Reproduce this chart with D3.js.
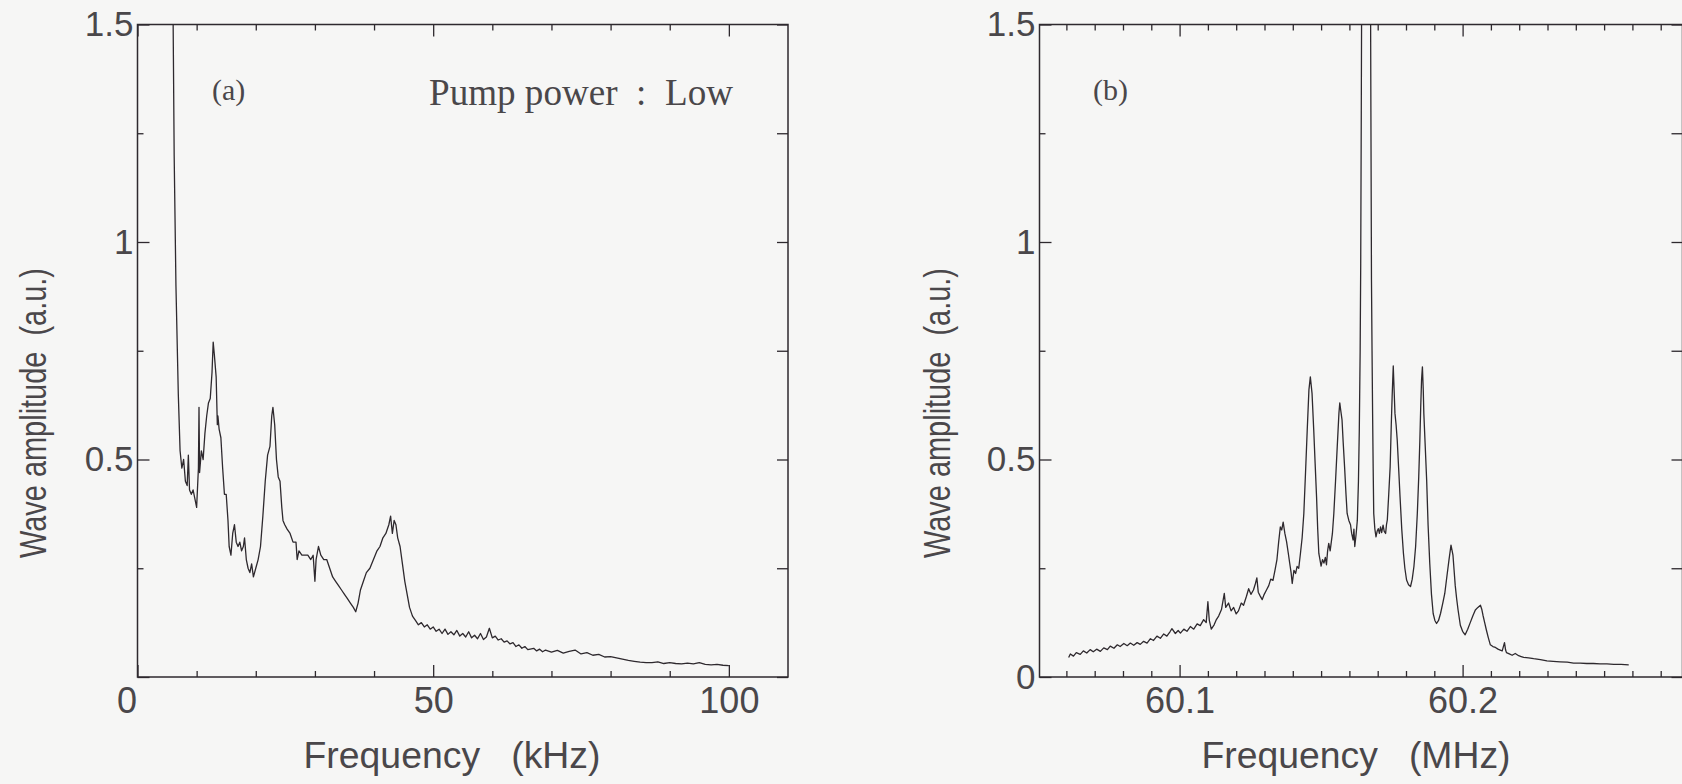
<!DOCTYPE html>
<html>
<head>
<meta charset="utf-8">
<script src="https://cdn.jsdelivr.net/npm/d3@7"></script>
<style>
body { margin: 0; background: #f6f6f5; }
svg { display: block; }
text { white-space: pre; }
</style>
</head>
<body>
<svg id="main"></svg>
<script>
// (a) low frequency spectrum, kHz vs amplitude
var spectrumA = [[6.0,1.55],[6.2,1.2],[6.5,0.9],[6.9,0.65],[7.2,0.52],[7.5,0.48],[7.8,0.5],[8.1,0.45],[8.4,0.44],[8.6,0.51],[8.8,0.43],[9.1,0.42],[9.4,0.43],[9.7,0.41],[10.0,0.39],[10.3,0.48],[10.4,0.62],[10.5,0.47],[10.8,0.52],[11.1,0.5],[11.4,0.56],[11.7,0.6],[12.0,0.63],[12.3,0.64],[12.6,0.7],[12.8,0.77],[13.0,0.74],[13.3,0.69],[13.5,0.58],[13.6,0.6],[13.8,0.57],[14.1,0.55],[14.4,0.48],[14.7,0.42],[15.0,0.42],[15.3,0.36],[15.5,0.3],[15.8,0.28],[16.1,0.33],[16.4,0.35],[16.7,0.31],[17.0,0.3],[17.3,0.31],[17.6,0.29],[17.9,0.3],[18.1,0.32],[18.4,0.27],[18.7,0.25],[19.0,0.24],[19.3,0.26],[19.6,0.23],[20.0,0.25],[20.4,0.27],[20.8,0.3],[21.2,0.37],[21.6,0.45],[22.0,0.51],[22.4,0.53],[22.7,0.6],[22.9,0.62],[23.2,0.58],[23.5,0.5],[23.8,0.46],[24.1,0.45],[24.4,0.39],[24.6,0.36],[24.9,0.35],[25.3,0.34],[25.8,0.33],[26.3,0.31],[26.8,0.31],[27.0,0.27],[27.3,0.29],[27.8,0.28],[28.3,0.28],[28.8,0.28],[29.3,0.27],[29.7,0.28],[30.0,0.22],[30.2,0.27],[30.6,0.3],[31.0,0.28],[31.5,0.27],[32.0,0.27],[32.5,0.25],[33.0,0.23],[33.5,0.22],[34.0,0.21],[34.5,0.2],[35.0,0.19],[35.5,0.18],[36.0,0.17],[36.5,0.16],[36.9,0.15],[37.3,0.17],[37.7,0.2],[38.2,0.22],[38.7,0.24],[39.3,0.25],[39.9,0.27],[40.5,0.29],[41.0,0.3],[41.5,0.32],[42.0,0.33],[42.5,0.35],[42.8,0.37],[43.1,0.33],[43.4,0.36],[43.7,0.35],[44.0,0.32],[44.4,0.3],[44.8,0.26],[45.2,0.22],[45.6,0.19],[46.0,0.16],[46.5,0.14],[47.0,0.13],[47.5,0.12],[48.0,0.125],[48.5,0.115],[49.0,0.12],[49.5,0.11],[50,0.115],[50.5,0.105],[51,0.11],[51.5,0.1],[52,0.11],[52.5,0.098],[53,0.104],[53.5,0.097],[54,0.107],[54.5,0.094],[55,0.1],[55.5,0.092],[56,0.104],[56.5,0.09],[57,0.096],[57.5,0.088],[58,0.1],[58.5,0.086],[59,0.092],[59.5,0.112],[60,0.09],[60.5,0.094],[61,0.085],[61.5,0.088],[62,0.08],[62.5,0.083],[63,0.076],[63.5,0.079],[64,0.07],[64.5,0.074],[65,0.066],[65.5,0.07],[66,0.063],[67,0.066],[67.5,0.06],[68,0.064],[68.5,0.058],[69,0.062],[70,0.057],[71,0.061],[72,0.055],[73,0.059],[74,0.062],[75,0.053],[76,0.056],[77,0.05],[78,0.052],[79,0.046],[80,0.047],[81,0.044],[82,0.041],[83,0.038],[84,0.036],[85,0.034],[86,0.033],[87,0.033],[88,0.035],[89,0.031],[90,0.033],[91,0.031],[92,0.03],[93,0.032],[94,0.03],[95,0.033],[96,0.029],[97,0.028],[98,0.029],[99,0.027],[100,0.026]];

// (b) spectrum around the pump, MHz vs amplitude
var spectrumB = [[60.0608,0.045],[60.0614,0.053],[60.0625,0.048],[60.0635,0.056],[60.0649,0.052],[60.066,0.06],[60.0672,0.055],[60.0684,0.063],[60.0695,0.058],[60.0707,0.064],[60.072,0.059],[60.0732,0.067],[60.0745,0.063],[60.0755,0.071],[60.0768,0.066],[60.078,0.074],[60.079,0.07],[60.0803,0.077],[60.0815,0.072],[60.0826,0.078],[60.0838,0.073],[60.085,0.079],[60.0861,0.075],[60.0873,0.082],[60.0885,0.078],[60.0897,0.088],[60.0908,0.084],[60.092,0.094],[60.0932,0.089],[60.0944,0.099],[60.0955,0.094],[60.0966,0.104],[60.0973,0.111],[60.0985,0.1],[60.0995,0.107],[60.1003,0.101],[60.1015,0.11],[60.1026,0.105],[60.1038,0.116],[60.105,0.11],[60.1062,0.122],[60.1073,0.118],[60.1085,0.132],[60.1094,0.125],[60.11,0.173],[60.1105,0.13],[60.1112,0.11],[60.1122,0.12],[60.113,0.132],[60.1138,0.14],[60.1148,0.155],[60.1158,0.192],[60.1163,0.16],[60.1173,0.17],[60.1182,0.152],[60.1191,0.16],[60.12,0.145],[60.1208,0.152],[60.1218,0.17],[60.1226,0.165],[60.1236,0.185],[60.1244,0.203],[60.1252,0.19],[60.1261,0.2],[60.1268,0.215],[60.1273,0.228],[60.1278,0.195],[60.1285,0.186],[60.1292,0.178],[60.1299,0.19],[60.1307,0.2],[60.1315,0.21],[60.1322,0.225],[60.133,0.222],[60.1337,0.245],[60.1344,0.27],[60.135,0.31],[60.1356,0.345],[60.1361,0.338],[60.1366,0.356],[60.1372,0.33],[60.1378,0.311],[60.1384,0.285],[60.1389,0.262],[60.1394,0.24],[60.1398,0.215],[60.1404,0.245],[60.141,0.238],[60.1415,0.254],[60.1421,0.25],[60.1427,0.284],[60.1433,0.32],[60.1439,0.376],[60.1445,0.47],[60.1451,0.568],[60.1457,0.66],[60.1462,0.69],[60.1468,0.652],[60.1474,0.568],[60.1479,0.49],[60.1484,0.414],[60.1488,0.34],[60.1492,0.284],[60.1496,0.27],[60.15,0.255],[60.1505,0.27],[60.151,0.262],[60.1515,0.275],[60.1519,0.258],[60.1523,0.29],[60.1527,0.307],[60.1532,0.29],[60.1536,0.31],[60.154,0.33],[60.1545,0.376],[60.1551,0.45],[60.1557,0.529],[60.1563,0.606],[60.1566,0.63],[60.1569,0.615],[60.1574,0.591],[60.1578,0.54],[60.1583,0.483],[60.1588,0.42],[60.1592,0.376],[60.1598,0.36],[60.1604,0.35],[60.1608,0.33],[60.1613,0.315],[60.1616,0.34],[60.1619,0.3],[60.1624,0.33],[60.1628,0.36],[60.1632,0.45],[60.1635,0.568],[60.1638,0.75],[60.164,0.95],[60.1642,1.3],[60.1644,1.7],[60.1674,1.7],[60.1676,1.3],[60.1678,0.913],[60.168,0.75],[60.1682,0.606],[60.1684,0.48],[60.1686,0.376],[60.169,0.34],[60.1694,0.322],[60.1698,0.335],[60.1702,0.341],[60.1706,0.33],[60.171,0.345],[60.1714,0.332],[60.1719,0.349],[60.1723,0.335],[60.1728,0.33],[60.1731,0.35],[60.1734,0.361],[60.1739,0.42],[60.1744,0.483],[60.1748,0.58],[60.1751,0.644],[60.1753,0.68],[60.1755,0.715],[60.1758,0.66],[60.1761,0.606],[60.1765,0.58],[60.1769,0.545],[60.1774,0.48],[60.1779,0.414],[60.1785,0.34],[60.1791,0.284],[60.1796,0.25],[60.1802,0.223],[60.1809,0.212],[60.1816,0.208],[60.1822,0.225],[60.1828,0.254],[60.1834,0.3],[60.184,0.376],[60.1845,0.46],[60.1849,0.545],[60.1852,0.62],[60.1855,0.683],[60.1858,0.713],[60.1861,0.66],[60.1863,0.606],[60.1868,0.53],[60.1873,0.453],[60.1878,0.35],[60.1884,0.261],[60.189,0.19],[60.1896,0.146],[60.1902,0.13],[60.1908,0.123],[60.1915,0.13],[60.1922,0.146],[60.193,0.17],[60.1937,0.192],[60.1945,0.234],[60.1952,0.27],[60.1959,0.303],[60.1966,0.28],[60.197,0.245],[60.1974,0.21],[60.1979,0.18],[60.1984,0.154],[60.1992,0.119],[60.2,0.105],[60.2009,0.097],[60.2018,0.11],[60.2027,0.125],[60.2036,0.14],[60.2045,0.154],[60.2054,0.16],[60.2063,0.165],[60.2068,0.155],[60.2072,0.142],[60.2078,0.125],[60.2084,0.108],[60.2091,0.09],[60.2098,0.074],[60.2107,0.07],[60.2116,0.068],[60.2125,0.064],[60.2133,0.062],[60.214,0.06],[60.2148,0.079],[60.2152,0.062],[60.2155,0.056],[60.2165,0.053],[60.2175,0.05],[60.2186,0.054],[60.2198,0.049],[60.2207,0.047],[60.2216,0.045],[60.2233,0.044],[60.2251,0.042],[60.2275,0.04],[60.2298,0.037],[60.232,0.036],[60.2345,0.035],[60.237,0.034],[60.2392,0.032],[60.2415,0.032],[60.2439,0.031],[60.2462,0.031],[60.2486,0.03],[60.251,0.03],[60.2534,0.029],[60.256,0.029],[60.2587,0.028]];

var yMajor = [0, 0.5, 1, 1.5];
var yMinor = [0.25, 0.75, 1.25];
var xMajorA = [0, 50, 100];
var xMinorA = [10, 20, 30, 40, 60, 70, 80, 90];
var xMajorB = [60.1, 60.2];
var xMinorB = [60.06, 60.07, 60.08, 60.09, 60.11, 60.12, 60.13, 60.14, 60.15, 60.16, 60.17, 60.18, 60.19, 60.21, 60.22, 60.23, 60.24, 60.25, 60.26, 60.27];

var width = 1682, height = 784;
var ink = '#2e292e', textInk = '#4a474a';
var sans = '"Liberation Sans", Arial, sans-serif';
var serif = '"Liberation Serif", "Times New Roman", serif';

var svg = d3.select('#main').attr('width', width).attr('height', height);
var defs = svg.append('defs');

var top_ = 24.5, bottom = 677;

function styleAxis(g, size) {
	g.attr('font-family', sans).attr('font-size', size);
	g.select('.domain').remove();
	g.selectAll('line').attr('stroke', ink).attr('stroke-width', 1.3);
	g.selectAll('text').attr('fill', textInk);
	return g;
}

function panel(o) {
	var x = d3.scaleLinear().domain(o.xDomain).range(o.xRange);
	var y = d3.scaleLinear().domain([0, 1.5]).range([bottom, top_]);
	var left = o.xRange[0], right = o.xRange[1];
	var g = svg.append('g');

	defs.append('clipPath').attr('id', o.id)
		.append('rect')
		.attr('x', left).attr('y', top_)
		.attr('width', right - left).attr('height', bottom - top_);

	// ticks, all pointing inward
	styleAxis(g.append('g').attr('transform', `translate(0,${bottom})`)
		.call(d3.axisBottom(x).tickValues(o.xMajor).tickSize(-12).tickPadding(10).tickFormat(o.xFormat)), 36);
	styleAxis(g.append('g').attr('transform', `translate(0,${bottom})`)
		.call(d3.axisBottom(x).tickValues(o.xMinor).tickSize(-6).tickFormat('')), 36);
	styleAxis(g.append('g').attr('transform', `translate(0,${top_})`)
		.call(d3.axisTop(x).tickValues(o.xMajor).tickSize(-12).tickFormat('')), 36);
	styleAxis(g.append('g').attr('transform', `translate(0,${top_})`)
		.call(d3.axisTop(x).tickValues(o.xMinor).tickSize(-6).tickFormat('')), 36);
	styleAxis(g.append('g').attr('transform', `translate(${left},0)`)
		.call(d3.axisLeft(y).tickValues(yMajor).tickSize(-12).tickPadding(4).tickFormat(o.yFormat)), 35);
	styleAxis(g.append('g').attr('transform', `translate(${left},0)`)
		.call(d3.axisLeft(y).tickValues(yMinor).tickSize(-6).tickFormat('')), 35);
	styleAxis(g.append('g').attr('transform', `translate(${right},0)`)
		.call(d3.axisRight(y).tickValues(yMajor.concat(yMinor)).tickSize(-11).tickFormat('')), 35);

	// frame
	g.append('rect')
		.attr('x', left).attr('y', top_)
		.attr('width', right - left).attr('height', bottom - top_)
		.attr('fill', 'none').attr('stroke', ink).attr('stroke-width', 1.5);

	var line = d3.line().x(d => x(d[0])).y(d => y(d[1]));
	g.append('path')
		.datum(o.data)
		.attr('d', line)
		.attr('clip-path', `url(#${o.id})`)
		.attr('fill', 'none')
		.attr('stroke', ink)
		.attr('stroke-width', 1.3)
		.attr('stroke-linejoin', 'round');

	g.append('text')
		.attr('x', o.xTitle[0]).attr('y', o.xTitle[1])
		.attr('text-anchor', 'middle')
		.attr('font-family', sans).attr('font-size', 37)
		.attr('fill', textInk)
		.attr('textLength', o.xTitle[2]).attr('lengthAdjust', 'spacingAndGlyphs')
		.text(o.xLabel);

	g.append('text')
		.attr('transform', `translate(${o.yTitle[0]},${o.yTitle[1]}) rotate(-90)`)
		.attr('text-anchor', 'middle')
		.attr('font-family', sans).attr('font-size', 37)
		.attr('fill', textInk)
		.attr('textLength', 290).attr('lengthAdjust', 'spacingAndGlyphs')
		.text('Wave amplitude  (a.u.)');

	g.append('text')
		.attr('x', o.tag[0]).attr('y', o.tag[1])
		.attr('font-family', serif).attr('font-size', 30)
		.attr('fill', textInk)
		.text(o.tag[2]);

	return {g, x, y};
}

var a = panel({
	id: 'clipA',
	data: spectrumA,
	xDomain: [0, 110], xRange: [137.5, 788],
	xMajor: xMajorA, xMinor: xMinorA,
	xFormat: d3.format('d'),
	yFormat: d => d === 0 ? '' : String(d),
	xLabel: 'Frequency   (kHz)', xTitle: [452, 768, 297],
	yTitle: [46, 413],
	tag: [212, 100, '(a)'],
});
// the corner "0" sits a little left of the axis in the original
a.g.selectAll('.tick text').filter(d => d === 0).attr('dx', -11);

a.g.append('text')
	.attr('x', 429).attr('y', 105)
	.attr('font-family', serif).attr('font-size', 37)
	.attr('fill', textInk)
	.attr('textLength', 304).attr('lengthAdjust', 'spacingAndGlyphs')
	.text('Pump power  :  Low');

var b = panel({
	id: 'clipB',
	data: spectrumB,
	xDomain: [60.0505, 60.2777], xRange: [1039.5, 1682.5],
	xMajor: xMajorB, xMinor: xMinorB,
	xFormat: d3.format('.1f'),
	yFormat: d => String(d),
	xLabel: 'Frequency   (MHz)', xTitle: [1356, 768, 309],
	yTitle: [950, 413],
	tag: [1093, 100, '(b)'],
});
</script>
</body>
</html>
